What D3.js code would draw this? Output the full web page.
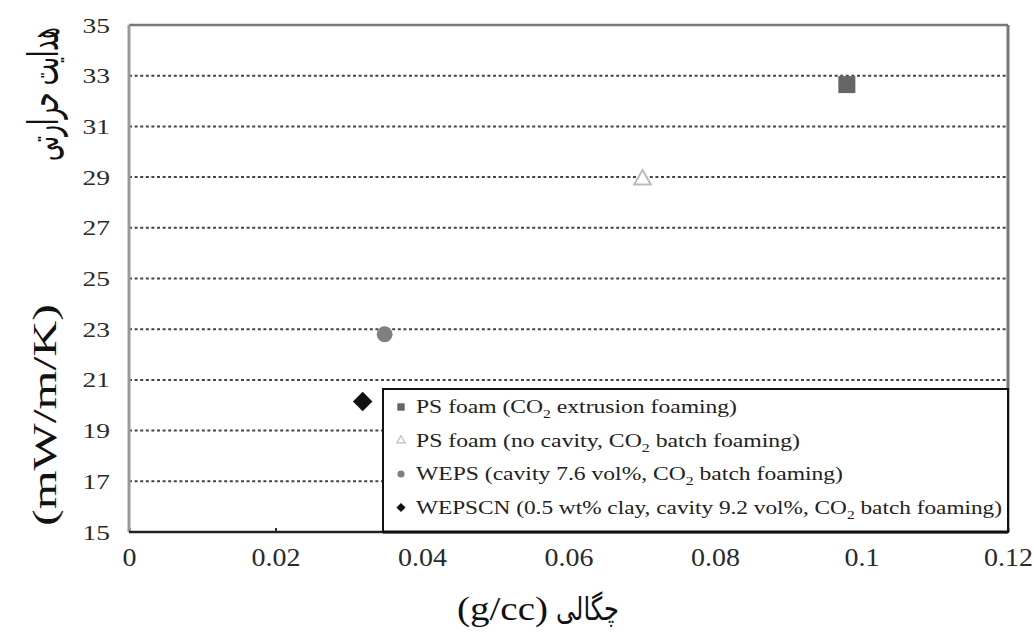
<!DOCTYPE html>
<html>
<head>
<meta charset="utf-8">
<script src="https://cdn.jsdelivr.net/npm/d3@7"></script>
<style>
  html, body { margin: 0; padding: 0; background: #fff; }
  svg { display: block; }
</style>
</head>
<body>
<div id="chart"></div>
<script>
// data
const seriesNames = [
  ["PS foam (CO", "2", " extrusion foaming)"],
  ["PS foam (no cavity, CO", "2", " batch foaming)"],
  ["WEPS (cavity 7.6 vol%, CO", "2", " batch foaming)"],
  ["WEPSCN (0.5 wt% clay, cavity 9.2 vol%, CO", "2", " batch foaming)"]
];
const densities = [0.098, 0.0701, 0.0349, 0.0319];
const conductivities = [32.65, 28.9, 22.8, 20.15];
const xTicks = [0, 0.02, 0.04, 0.06, 0.08, 0.1, 0.12];
const yTicks = [15, 17, 19, 21, 23, 25, 27, 29, 31, 33, 35];
const gridTicks = [17, 19, 21, 23, 25, 27, 29, 31, 33];

const width = 1034, height = 633;
const plotLeft = 129, plotRight = 1008, plotTop = 25, plotBottom = 532;

const serif = "Liberation Serif, Times New Roman, serif";
const persian = "DejaVu Sans";

const svg = d3.select("#chart").append("svg")
  .attr("width", width).attr("height", height)
  .attr("viewBox", [0, 0, width, height]);

const x = d3.scaleLinear([0, 0.12], [plotLeft, plotRight]);
const y = d3.scaleLinear([15, 35], [plotBottom, plotTop]);

// stretch text horizontally like the scanned figure
function stretch(sel, k) {
  sel.each(function () {
    const w = this.getComputedTextLength();
    d3.select(this).attr("textLength", w * k).attr("lengthAdjust", "spacingAndGlyphs");
  });
}

// dotted grid
svg.append("g")
  .selectAll("line")
  .data(gridTicks)
  .join("line")
  .attr("x1", plotLeft).attr("x2", plotRight)
  .attr("y1", d => y(d)).attr("y2", d => y(d))
  .attr("stroke", "#444")
  .attr("stroke-width", 2)
  .attr("stroke-dasharray", "3,2.6");

// axes (labels only)
const yAxis = svg.append("g")
  .attr("transform", `translate(${plotLeft},0)`)
  .call(d3.axisLeft(y).tickValues(yTicks).tickSize(0).tickPadding(19).tickFormat(d3.format("d")));
yAxis.select(".domain").remove();
yAxis.selectAll("text")
  .attr("fill", "#2a2a2a")
  .attr("font-family", serif)
  .attr("font-size", 22)
  .call(stretch, 1.25);

const xAxis = svg.append("g")
  .attr("transform", `translate(0,${plotBottom})`)
  .call(d3.axisBottom(x).tickValues(xTicks).tickSize(-4).tickPadding(16).tickFormat(d => d === 0 ? "0" : String(d)));
xAxis.select(".domain").remove();
xAxis.selectAll("line").attr("stroke", "#333").attr("stroke-width", 2);
xAxis.selectAll("text")
  .attr("fill", "#2a2a2a")
  .attr("font-family", serif)
  .attr("font-size", 25)
  .call(stretch, 1.12);

// frame
const frame = svg.append("g").attr("fill", "none");
frame.append("line").attr("x1", plotLeft).attr("x2", plotRight).attr("y1", plotTop).attr("y2", plotTop)
  .attr("stroke", "#777").attr("stroke-width", 2.5);
frame.append("line").attr("x1", plotRight).attr("x2", plotRight).attr("y1", plotTop).attr("y2", plotBottom)
  .attr("stroke", "#777").attr("stroke-width", 3);
frame.append("line").attr("x1", plotLeft).attr("x2", plotLeft).attr("y1", plotTop).attr("y2", plotBottom)
  .attr("stroke", "#999").attr("stroke-width", 3);
frame.append("line").attr("x1", plotLeft).attr("x2", plotRight).attr("y1", plotBottom).attr("y2", plotBottom)
  .attr("stroke", "#222").attr("stroke-width", 2.5);

// markers
const symbols = [
  { type: d3.symbolSquare, size: 290, fill: "#666", stroke: "none", rot: 0 },
  { type: d3.symbolTriangle, size: 120, fill: "#fff", stroke: "#bbb", rot: 0 },
  { type: d3.symbolCircle, size: 200, fill: "#808080", stroke: "none", rot: 0 },
  { type: d3.symbolSquare, size: 190, fill: "#111", stroke: "none", rot: 45 }
];

svg.append("g")
  .selectAll("path")
  .data(densities)
  .join("path")
  .attr("transform", (d, i) => `translate(${x(d)},${y(conductivities[i])}) rotate(${symbols[i].rot})`)
  .attr("d", (d, i) => d3.symbol(symbols[i].type, symbols[i].size)())
  .attr("fill", (d, i) => symbols[i].fill)
  .attr("stroke", (d, i) => symbols[i].stroke)
  .attr("stroke-width", 2);

// legend
const legend = svg.append("g");
legend.append("rect")
  .attr("x", 383).attr("y", 389)
  .attr("width", plotRight - 383).attr("height", plotBottom - 389)
  .attr("fill", "#fff").attr("stroke", "#111").attr("stroke-width", 2);
legend.append("line")
  .attr("x1", 383).attr("x2", plotRight).attr("y1", plotBottom).attr("y2", plotBottom)
  .attr("stroke", "#111").attr("stroke-width", 3);

const rowY = [413, 446.5, 480, 513.5];
const rowWidth = [321, 384, 427, 586];
const legendSymbols = [
  { type: d3.symbolSquare, size: 55 },
  { type: d3.symbolTriangle, size: 30 },
  { type: d3.symbolCircle, size: 40 },
  { type: d3.symbolSquare, size: 42 }
];

const rows = legend.selectAll("g.row")
  .data(seriesNames)
  .join("g")
  .attr("class", "row");

rows.append("path")
  .attr("transform", (d, i) => `translate(401,${rowY[i] - 6}) rotate(${symbols[i].rot})`)
  .attr("d", (d, i) => d3.symbol(legendSymbols[i].type, legendSymbols[i].size)())
  .attr("fill", (d, i) => symbols[i].fill)
  .attr("stroke", (d, i) => symbols[i].stroke)
  .attr("stroke-width", 1.2);

const rowText = rows.append("text")
  .attr("x", 416)
  .attr("y", (d, i) => rowY[i])
  .attr("fill", "#222")
  .attr("font-family", serif)
  .attr("font-size", 18)
  .attr("textLength", (d, i) => rowWidth[i])
  .attr("lengthAdjust", "spacingAndGlyphs");
rowText.append("tspan").text(d => d[0]);
rowText.append("tspan").attr("dy", 5).attr("font-size", 12).text(d => d[1]);
rowText.append("tspan").attr("dy", -5).text(d => d[2]);

// axis titles
svg.append("text")
  .attr("transform", "translate(56,415) rotate(-90)")
  .attr("text-anchor", "middle")
  .attr("fill", "#111")
  .attr("font-family", serif)
  .attr("font-size", 34)
  .attr("textLength", 222)
  .attr("lengthAdjust", "spacingAndGlyphs")
  .text("(mW/m/K)");

// persian title squeezed with a scale so its box stays true
const faTitle = svg.append("text")
  .attr("text-anchor", "middle")
  .attr("fill", "#111")
  .attr("font-family", persian)
  .attr("font-size", 42)
  .text("هدایت حرارتی");
const faLen = faTitle.node().getComputedTextLength();
faTitle.attr("transform", `translate(58,94) rotate(-90) scale(${134 / faLen},1)`);

svg.append("text")
  .attr("x", 548).attr("y", 620)
  .attr("text-anchor", "end")
  .attr("fill", "#111")
  .attr("font-family", serif)
  .attr("font-size", 34)
  .attr("textLength", 91)
  .attr("lengthAdjust", "spacingAndGlyphs")
  .text("(g/cc)");

svg.append("text")
  .attr("x", 556).attr("y", 620)
  .attr("text-anchor", "start")
  .attr("fill", "#111")
  .attr("font-family", persian)
  .attr("font-size", 32)
  .attr("textLength", 63)
  .attr("lengthAdjust", "spacingAndGlyphs")
  .text("چگالی");
</script>
</body>
</html>
